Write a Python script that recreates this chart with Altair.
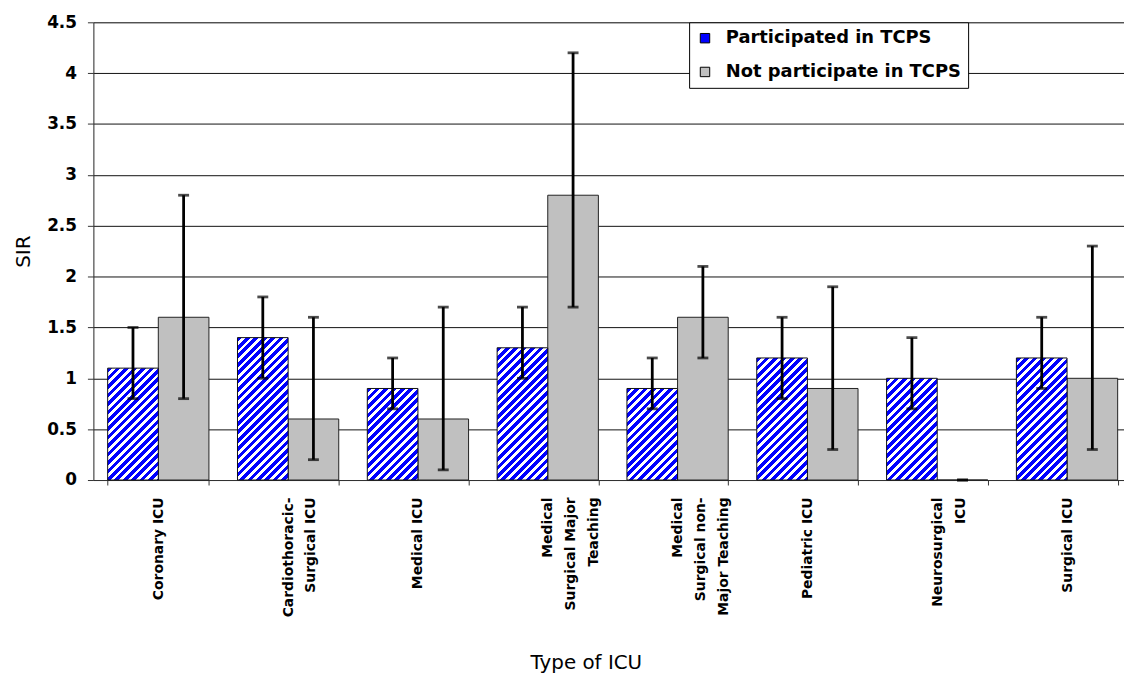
import altair as alt
import pandas as pd

# ---------------- data ----------------
categories = ["Coronary ICU", "Cardiothoracic-|Surgical ICU", "Medical ICU",
              "Medical|Surgical Major|Teaching", "Medical|Surgical non-|Major Teaching",
              "Pediatric ICU", "Neurosurgical|ICU", "Surgical ICU"]
series = ["Participated in TCPS", "Not participate in TCPS"]

participated = [1.1, 1.4, 0.9, 1.3, 0.9, 1.2, 1.0, 1.2]
participated_lo = [0.8, 1.0, 0.7, 1.0, 0.7, 0.8, 0.7, 0.9]
participated_hi = [1.5, 1.8, 1.2, 1.7, 1.2, 1.6, 1.4, 1.6]

not_participated = [1.6, 0.6, 0.6, 2.8, 1.6, 0.9, 0.0, 1.0]
not_participated_lo = [0.8, 0.2, 0.1, 1.7, 1.2, 0.3, 0.0, 0.3]
not_participated_hi = [2.8, 1.6, 1.7, 4.2, 2.1, 1.9, 0.0, 2.3]

y_ticks = [0, 0.5, 1, 1.5, 2, 2.5, 3, 3.5, 4, 4.5]

rows = []
for i, c in enumerate(categories):
    rows.append(dict(cat=c, series=series[0], value=participated[i],
                     lo=participated_lo[i], hi=participated_hi[i]))
    rows.append(dict(cat=c, series=series[1], value=not_participated[i],
                     lo=not_participated_lo[i], hi=not_participated_hi[i]))
df = pd.DataFrame(rows)

# ---------------- layout / style ----------------
PLOT_W = 1038
PLOT_H = 461
RANGE_W = 1046
Y_MAX = 4.5
P_IN, P_OUT = 0.22, 0.11
STEP = RANGE_W / (len(categories) - P_IN + 2 * P_OUT)
BAR_W = STEP * (1 - P_IN) / 2

BLUE = "#0000FF"
GRAY = "#C0C0C0"
LABEL_FONT = "DejaVu Sans"


def hatch_fill(val, period=8.5, blue_frac=0.55):
    """Diagonal '/' stripes as a linear gradient in bounding-box units."""
    w = BAR_W
    h = max(val / Y_MAX * PLOT_H, 1.0)
    L = w + h
    k = L / (w * w + h * h)
    stops = []
    n = int(L / period) + 2
    for j in range(n):
        a = min(j * period / L, 1.0)
        b = min((j + blue_frac) * period / L, 1.0)
        c = min((j + 1) * period / L, 1.0)
        stops += [alt.GradientStop(offset=a, color=BLUE),
                  alt.GradientStop(offset=b, color=BLUE),
                  alt.GradientStop(offset=b, color="white"),
                  alt.GradientStop(offset=c, color="white")]
        if c >= 1.0:
            break
    return alt.LinearGradient(gradient="linear", x1=0, y1=0, x2=w * k, y2=h * k, stops=stops)


x_axis = alt.Axis(
    labelExpr="split(datum.label, '|')",
    labelAngle=270, labelAlign="right", labelBaseline="middle",
    labelFont=LABEL_FONT, labelFontWeight="bold", labelFontSize=14,
    labelLineHeight=23, labelPadding=12, labelColor="black",
    tickBand="extent", tickSize=5, tickColor="#333", domainColor="#333",
    labelOverlap=False, labelLimit=300,
    title="Type of ICU", titleFont=LABEL_FONT, titleFontSize=20, titleFontWeight="normal",
    titleColor="black", titleX=496, titleY=184, titleBaseline="middle", titleAlign="center",
)
x_scale = alt.Scale(range=[0, RANGE_W], paddingInner=P_IN, paddingOuter=P_OUT)
X = alt.X("cat:N", sort=categories, scale=x_scale, axis=x_axis)
XOFF = alt.XOffset("series:N", sort=series, scale=alt.Scale(domain=series))

y_axis = alt.Axis(
    values=y_ticks, format="~g", grid=True, gridColor="#111", gridWidth=1,
    labelFont=LABEL_FONT, labelFontWeight="bold", labelFontSize=17, labelColor="black",
    labelPadding=11, tickSize=6, tickColor="#333", domainColor="#333",
    title="SIR", titleFont=LABEL_FONT, titleFontSize=20, titleFontWeight="normal",
    titleColor="black", titlePadding=13,
)
Y = alt.Y("value:Q", scale=alt.Scale(domain=[0, Y_MAX], nice=False), axis=y_axis)

base = alt.Chart(df)

gray_bars = base.transform_filter(alt.datum.series == series[1]).mark_bar(
    stroke="#222", strokeWidth=1
).encode(
    x=X, xOffset=XOFF, y=Y,
    color=alt.Color("series:N", sort=series,
                    scale=alt.Scale(domain=series, range=[BLUE, GRAY]),
                    legend=alt.Legend(
                        title=None, orient="none", legendX=600, legendY=0,
                        direction="vertical", strokeColor="black", fillColor="white",
                        padding=7, symbolType="square", symbolSize=90,
                        symbolStrokeColor="black", symbolStrokeWidth=1,
                        labelFont=LABEL_FONT, labelFontWeight="bold", labelFontSize=18,
                        labelColor="black", labelOffset=12, rowPadding=16, labelLimit=400)),
)

blue_layers = []
for i, c in enumerate(categories):
    blue_layers.append(
        base.transform_filter((alt.datum.series == series[0]) & (alt.datum.cat == c))
        .mark_bar(fill=hatch_fill(participated[i]), stroke="#111", strokeWidth=1)
        .encode(x=X, xOffset=XOFF, y=Y)
    )

err_rules = base.mark_rule(color="black", strokeWidth=2.8).encode(
    x=X, xOffset=XOFF, y=alt.Y("lo:Q", scale=alt.Scale(domain=[0, Y_MAX], nice=False)), y2="hi:Q"
)
cap_lo = base.mark_tick(color="black", size=11, thickness=2.8).encode(
    x=X, xOffset=XOFF, y=alt.Y("lo:Q", scale=alt.Scale(domain=[0, Y_MAX], nice=False))
)
cap_hi = base.mark_tick(color="black", size=11, thickness=2.8).encode(
    x=X, xOffset=XOFF, y=alt.Y("hi:Q", scale=alt.Scale(domain=[0, Y_MAX], nice=False))
)

chart = alt.layer(gray_bars, *blue_layers, err_rules, cap_lo, cap_hi).properties(
    width=PLOT_W, height=PLOT_H,
    autosize=alt.AutoSizeParams(type="none"),
    padding={"left": 86, "top": 12, "right": 0, "bottom": 199},
).configure_view(strokeWidth=0).configure(background="white")

chart.save("out.html", embed_options={"renderer": "svg", "actions": False})
